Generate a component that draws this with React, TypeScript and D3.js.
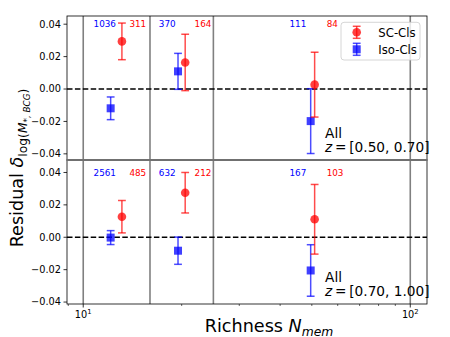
import React from 'react';
import * as d3 from 'd3';

// richness bins and sample positions
const binEdges = [10, 16, 25, 100];
const xIso = [12.13, 19.49, 49.6];
const xSC = [13.13, 20.5, 51.0];

// z = [0.50, 0.70]
const isoTop = [-0.0119, 0.0109, -0.0198];
const isoTopErr = [0.007, 0.0111, 0.02];
const scTop = [0.0294, 0.0164, 0.0027];
const scTopErr = [0.0113, 0.0174, 0.02];
// z = [0.70, 1.00]
const isoBot = [-0.0002, -0.0083, -0.0205];
const isoBotErr = [0.0043, 0.0084, 0.0159];
const scBot = [0.0127, 0.0275, 0.0111];
const scBotErr = [0.01, 0.0125, 0.0215];

// number of clusters per bin
const isoCountTop = [1036, 370, 111];
const scCountTop = [311, 164, 84];
const isoCountBot = [2561, 632, 167];
const scCountBot = [485, 212, 103];
// where the counts are written (data x)
const isoLabelX = [12.59, 19.17, 48.1];
const scLabelX = [13.84, 21.9, 55.5];

const yTicks = [-0.04, -0.02, 0, 0.02, 0.04];
const xMinor = [9, 20, 30, 40, 50, 60, 70, 80, 90];
const xMajor = [10, 100];
const zLabels = ['[0.50, 0.70]', '[0.70, 1.00]'];

const FONT = 'DejaVu Sans, sans-serif';
const RED = '#ff0000';
const BLUE = '#0000ff';
const L = 67, R = 427, PH = 144;

const x = d3.scaleLog().domain([8.92, 112.5]).range([L, R]);
const fmt = (v: number) => d3.format('.2f')(v).replace('-', '\u2212');

function ErrBars({ xs, ys, es, y, color, square }: any) {
  return (
    <g>
      {xs.map((xv: number, i: number) => {
        const cx = x(xv);
        const cy = y(ys[i]);
        const y1 = y(ys[i] + es[i]);
        const y2 = y(ys[i] - es[i]);
        return (
          <g key={i} stroke={color} strokeOpacity={0.7} strokeWidth={1.5}>
            <line x1={cx} x2={cx} y1={y1} y2={y2} />
            <line x1={cx - 3.9} x2={cx + 3.9} y1={y1} y2={y1} />
            <line x1={cx - 3.9} x2={cx + 3.9} y1={y2} y2={y2} />
            {square
              ? <rect x={cx - 4} y={cy - 4} width={8} height={8} fill={color} fillOpacity={0.75} stroke="none" />
              : <circle cx={cx} cy={cy} r={4.3} fill={color} fillOpacity={0.75} stroke="none" />}
          </g>
        );
      })}
    </g>
  );
}

function Panel({ top, dom, iso, isoErr, sc, scErr, isoN, scN, zLabel, legend }: any) {
  const y = d3.scaleLinear().domain(dom).range([top + PH, top]);
  return (
    <g>
      {binEdges.map((b) => (
        <line key={b} x1={x(b)} x2={x(b)} y1={top} y2={top + PH} stroke="#808080" strokeWidth={1.6} />
      ))}
      <line x1={L} x2={R} y1={y(0)} y2={y(0)} stroke="black" strokeWidth={1.5} strokeDasharray="5.5,2.4" />
      <ErrBars xs={xIso} ys={iso} es={isoErr} y={y} color={BLUE} square />
      <ErrBars xs={xSC} ys={sc} es={scErr} y={y} color={RED} />
      {isoN.map((n: number, i: number) => (
        <text key={'i' + i} x={x(isoLabelX[i])} y={y(0.04)} dy="0.35em" textAnchor="end" fontSize={8.8} fill={BLUE}>{n}</text>
      ))}
      {scN.map((n: number, i: number) => (
        <text key={'s' + i} x={x(scLabelX[i])} y={y(0.04)} dy="0.35em" textAnchor="start" fontSize={8.8} fill={RED}>{n}</text>
      ))}
      <text x={L + 0.717 * (R - L)} y={top + PH - 22} fontSize={13.7}>All</text>
      <text x={L + 0.717 * (R - L)} y={top + PH - 8} fontSize={13.7}>
        <tspan fontStyle="italic">z</tspan>{'\u2009=\u2009' + zLabel}
      </text>
      {yTicks.map((t) => (
        <g key={t}>
          <line x1={L - 3.5} x2={L} y1={y(t)} y2={y(t)} stroke="black" strokeWidth={0.8} />
          <text x={L - 6} y={y(t)} dy="0.35em" textAnchor="end" fontSize={9.76}>{fmt(t)}</text>
        </g>
      ))}
      {legend && (
        <g>
          <rect x={341} y={22.3} width={79} height={37.7} rx={3} fill="white" fillOpacity={0.8} stroke="#cccccc" strokeWidth={0.8} />
          {[{ c: RED, t: 'SC-Cls', sq: false }, { c: BLUE, t: 'Iso-Cls', sq: true }].map((e, i) => {
            const cy = 32.3 + i * 17;
            const cx = 356.7;
            return (
              <g key={e.t}>
                <g stroke={e.c} strokeOpacity={0.7} strokeWidth={1.5}>
                  <line x1={cx} x2={cx} y1={cy - 6} y2={cy + 6} />
                  <line x1={cx - 3.9} x2={cx + 3.9} y1={cy - 6} y2={cy - 6} />
                  <line x1={cx - 3.9} x2={cx + 3.9} y1={cy + 6} y2={cy + 6} />
                </g>
                {e.sq
                  ? <rect x={cx - 4} y={cy - 4} width={8} height={8} fill={e.c} fillOpacity={0.75} />
                  : <circle cx={cx} cy={cy} r={4.3} fill={e.c} fillOpacity={0.75} />}
                <text x={378.3} y={cy} dy="0.36em" fontSize={11.7}>{e.t}</text>
              </g>
            );
          })}
        </g>
      )}
      <rect x={L} y={top} width={R - L} height={PH} fill="none" stroke="black" strokeWidth={0.8} />
    </g>
  );
}

export default function App() {
  const bottom = 160 + PH;
  return (
    <svg width={450} height={337} fontFamily={FONT} style={{ position: 'absolute', left: 0, top: 0 }}>
      <rect width={450} height={337} fill="white" />
      <Panel top={16} dom={[-0.0438, 0.04506]} iso={isoTop} isoErr={isoTopErr} sc={scTop} scErr={scTopErr}
        isoN={isoCountTop} scN={scCountTop} zLabel={zLabels[0]} legend />
      <Panel top={160} dom={[-0.0412, 0.0477]} iso={isoBot} isoErr={isoBotErr} sc={scBot} scErr={scBotErr}
        isoN={isoCountBot} scN={scCountBot} zLabel={zLabels[1]} />
      <line x1={L} x2={R} y1={160} y2={160} stroke="#707070" strokeWidth={1.8} />
      {xMinor.map((t) => (
        <line key={t} x1={x(t)} x2={x(t)} y1={bottom} y2={bottom + 2} stroke="black" strokeWidth={0.6} />
      ))}
      {xMajor.map((t) => (
        <g key={t}>
          <line x1={x(t)} x2={x(t)} y1={bottom} y2={bottom + 3.5} stroke="black" strokeWidth={0.8} />
          <text x={x(t)} y={318} textAnchor="middle" fontSize={9.76}>
            10<tspan fontSize={6.8} dy={-4}>{Math.round(Math.log10(t))}</tspan>
          </text>
        </g>
      ))}
      <text x={269} y={331.5} textAnchor="middle" fontSize={17.6}>
        Richness <tspan fontStyle="italic">N</tspan>
        <tspan fontStyle="italic" fontSize={12.3} dy={4}>mem</tspan>
      </text>
      <text transform="translate(23,168) rotate(-90)" textAnchor="middle" fontSize={17.6}>
        Residual <tspan fontStyle="italic">δ</tspan>
        <tspan fontSize={12.3} dy={4}>log(</tspan>
        <tspan fontSize={12.3} fontStyle="italic">M</tspan>
        <tspan fontSize={8.8} fontStyle="italic" dy={2.5}>*, BCG</tspan>
        <tspan fontSize={12.3} dy={-2.5}>)</tspan>
      </text>
    </svg>
  );
}
